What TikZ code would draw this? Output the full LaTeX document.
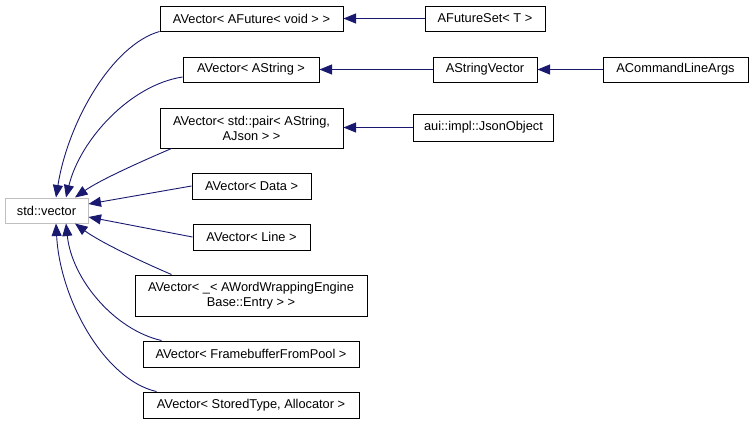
\documentclass[tikz,border=0pt]{standalone}
\usepackage{fontspec}
\setmainfont{Liberation Sans}
\usetikzlibrary{arrows.meta}
\definecolor{edgeblue}{HTML}{191970}
\definecolor{graybd}{HTML}{BFBFBF}
\tikzset{
  cls/.style={draw=black, line width=1pt, inner sep=0pt, align=center,
    font=\fontsize{12.8}{15}\selectfont, fill=white, minimum height=25pt},
  rootcls/.style={cls, draw=graybd},
  edge/.style={draw=edgeblue, line width=0.9pt, -{Triangle[length=12.5pt,width=10pt]}},
}
\begin{document}
\begin{tikzpicture}[x=1pt,y=-1pt]
\useasboundingbox (0,0) rectangle (752,424);
\node[rootcls, minimum width=83pt] (vec) at (46.5,210.5) {std::vector};
\node[cls, minimum width=183pt] (fut) at (251.5,18.5) {AVector< AFuture< void > >};
\node[cls, minimum width=120pt] (fset) at (485,18.5) {AFutureSet< T >};
\node[cls, minimum width=136pt] (astr) at (251,69.5) {AVector< AString >};
\node[cls, minimum width=104pt] (asv) at (485,69.5) {AStringVector};
\node[cls, minimum width=145pt] (cla) at (675.5,69.5) {ACommandLineArgs};
\node[cls, minimum width=183pt, minimum height=40pt] (pair) at (251.5,128) {AVector< std::pair< AString,\\AJson > >};
\node[cls, minimum width=140pt, minimum height=27pt] (json) at (483.5,127.5) {aui::impl::JsonObject};
\node[cls, minimum width=119pt, minimum height=26pt] (data) at (251.5,186) {AVector< Data >};
\node[cls, minimum width=117pt, minimum height=26pt] (line) at (251.5,237) {AVector< Line >};
\node[cls, minimum width=232pt, minimum height=41pt] (word) at (251,295.5) {AVector< \_< AWordWrappingEngine\\Base::Entry > >};
\node[cls, minimum width=216pt, minimum height=26pt] (fb) at (251,354) {AVector< FramebufferFromPool >};
\node[cls, minimum width=216pt, minimum height=26pt] (st) at (251,405) {AVector< StoredType, Allocator >};

\draw[edge] (fset.west) -- (fut.east);
\draw[edge] (asv.west) -- (astr.east);
\draw[edge] (cla.west) -- (asv.east);
\draw[edge] (json.west) -- (pair.east |- json.west);

\draw[edge] (fut.south west) .. controls (112,45) and (68,122) .. ([xshift=9.5pt]vec.north);
\draw[edge] ([yshift=-7.5pt]astr.west) .. controls (130,85) and (80,140) .. ([xshift=19.5pt]vec.north);
\draw[edge] ([xshift=12pt]pair.south west) .. controls (140,162) and (100,180) .. ([xshift=28.5pt]vec.north);
\draw[edge] (data.west) -- ([yshift=6.5pt]vec.east);
\draw[edge] (line.west) -- ([yshift=-6.5pt]vec.east);
\draw[edge] ([xshift=37pt]word.north west) .. controls (140,261) and (100,242) .. ([xshift=28.5pt]vec.south);
\draw[edge] ([xshift=19pt]fb.north west) .. controls (115,330) and (72,280) .. ([xshift=19.5pt]vec.south);
\draw[edge] ([xshift=14pt]st.north west) .. controls (105,380) and (60,300) .. ([xshift=9.5pt]vec.south);
\end{tikzpicture}
\end{document}
